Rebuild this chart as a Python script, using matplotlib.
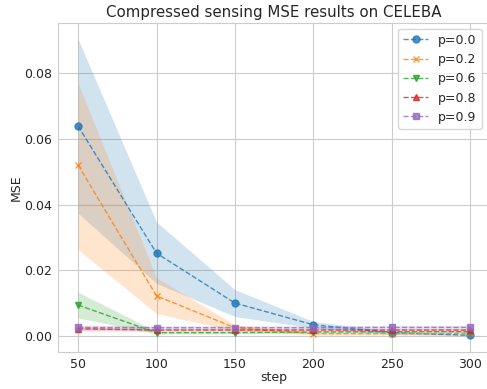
import numpy as np
import matplotlib
matplotlib.use('Agg')
import matplotlib.pyplot as plt
import seaborn as sns

sns.set_style('whitegrid')

steps = [50, 100, 150, 200, 250, 300]
labels = ['p=0.0', 'p=0.2', 'p=0.6', 'p=0.8', 'p=0.9']
markers = ['o', 'x', 'v', '^', 's']

mse_p00 = [0.0639, 0.0252, 0.0100, 0.0034, 0.0010, 0.0002]
mse_p02 = [0.0520, 0.0122, 0.0025, 0.0007, 0.0007, 0.0008]
mse_p06 = [0.0094, 0.0010, 0.0010, 0.0012, 0.0013, 0.0013]
mse_p08 = [0.0022, 0.0018, 0.0018, 0.0018, 0.0018, 0.0018]
mse_p09 = [0.0026, 0.0025, 0.0025, 0.0025, 0.0026, 0.0026]

lo_p00 = [0.0374, 0.0160, 0.0059, 0.0024, 0.0005, 0.0000]
hi_p00 = [0.0904, 0.0347, 0.0141, 0.0044, 0.0015, 0.0004]
lo_p02 = [0.0263, 0.0068, 0.0016, 0.0003, 0.0003, 0.0004]
hi_p02 = [0.0770, 0.0177, 0.0034, 0.0011, 0.0011, 0.0012]
lo_p06 = [0.0055, 0.0006, 0.0007, 0.0009, 0.0010, 0.0010]
hi_p06 = [0.0133, 0.0014, 0.0013, 0.0015, 0.0016, 0.0016]
lo_p08 = [0.0016, 0.0014, 0.0014, 0.0014, 0.0014, 0.0014]
hi_p08 = [0.0028, 0.0022, 0.0022, 0.0022, 0.0022, 0.0022]
lo_p09 = [0.0019, 0.0019, 0.0019, 0.0019, 0.0020, 0.0020]
hi_p09 = [0.0033, 0.0031, 0.0031, 0.0031, 0.0032, 0.0032]

means = [mse_p00, mse_p02, mse_p06, mse_p08, mse_p09]
lows = [lo_p00, lo_p02, lo_p06, lo_p08, lo_p09]
highs = [hi_p00, hi_p02, hi_p06, hi_p08, hi_p09]

fig = plt.figure(figsize=(4.87, 3.89), dpi=100)
ax = fig.add_axes([0.120, 0.095, 0.886, 0.847])

for m, lo, hi, lab, mk in zip(means, lows, highs, labels, markers):
    line, = ax.plot(steps, m, linestyle='--', marker=mk, markersize=5,
                    linewidth=1.0, alpha=0.8, label=lab)
    ax.fill_between(steps, lo, hi, color=line.get_color(), alpha=0.2, linewidth=0)

ax.set_ylim(-0.0049, 0.0954)
ax.set_title('Compressed sensing MSE results on CELEBA', fontsize=10.8, pad=4)
ax.set_xlabel('step', fontsize=9, labelpad=0)
ax.set_ylabel('MSE', fontsize=9, labelpad=1)
ax.tick_params(labelsize=9, pad=1)
ax.legend(loc='upper right', fontsize=9, bbox_to_anchor=(0.995, 1.0))

fig.savefig('out.png', dpi=100)
